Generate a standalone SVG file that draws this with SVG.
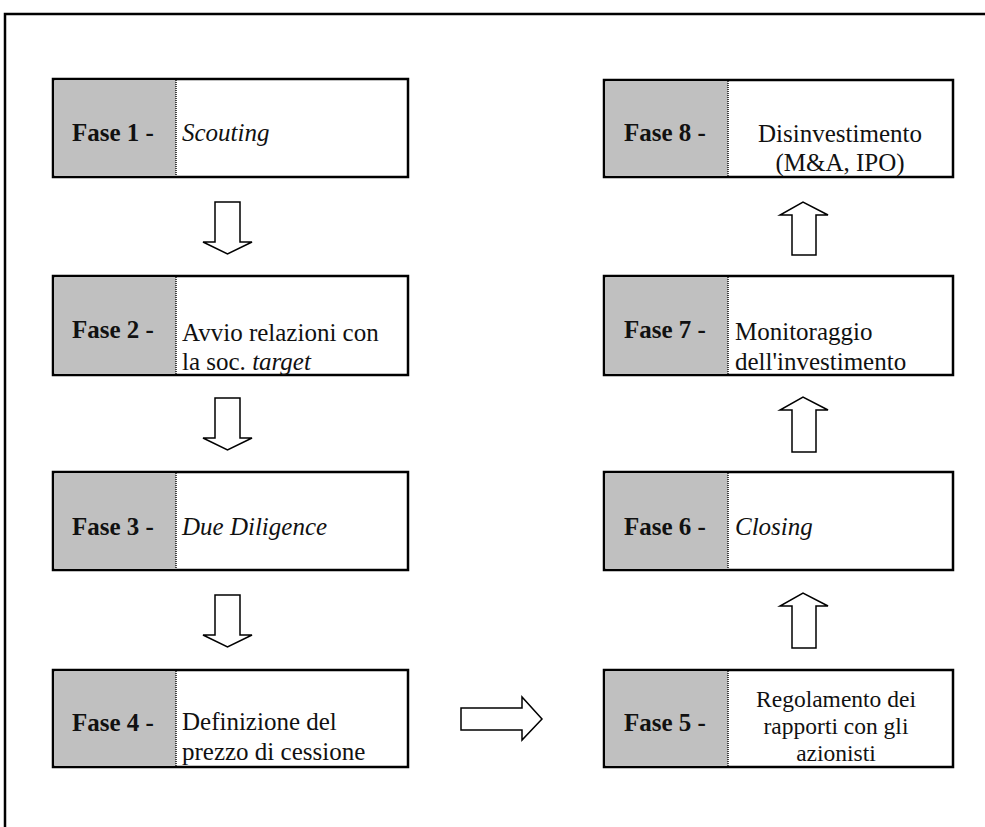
<svg xmlns="http://www.w3.org/2000/svg" width="985" height="827" viewBox="0 0 985 827">
<style>
.box{fill:#fff;stroke:#000;stroke-width:2.5}
.gray{fill:#c0c0c0}
.div{stroke:#333;stroke-width:1.8;stroke-dasharray:1 1}
text{font-family:'Liberation Serif','Times New Roman',serif;fill:#111;font-size:25px}
.lbl{font-weight:bold}
.it{font-style:italic}
.sm{font-size:23.5px}
.arr{fill:#fff;stroke:#000;stroke-width:1.5;stroke-linejoin:miter}
</style>
<rect width="985" height="827" fill="#fff"/>
<path d="M5,827 V14 H985" fill="none" stroke="#000" stroke-width="2.5"/>
<defs>
<clipPath id="c2"><rect x="53" y="276" width="355" height="99"/></clipPath>
<clipPath id="c4"><rect x="53" y="670" width="355" height="97"/></clipPath>
<clipPath id="c5"><rect x="604" y="670" width="349" height="97"/></clipPath>
<clipPath id="c7"><rect x="604" y="276" width="349" height="99"/></clipPath>
<clipPath id="c8"><rect x="604" y="80" width="349" height="97"/></clipPath>
</defs>
<g id="fase1">
<rect class="box" x="53" y="79" width="355" height="98"/>
<rect class="gray" x="54.5" y="80.5" width="121.5" height="95"/>
<line class="div" x1="176" y1="80" x2="176" y2="176"/>
<text class="lbl" x="72" y="141">Fase 1 -</text>
<text class="it" x="182" y="141">Scouting</text>
</g>
<g id="fase2">
<rect class="box" x="53" y="276" width="355" height="99"/>
<rect class="gray" x="54.5" y="277.5" width="121.5" height="96"/>
<line class="div" x1="176" y1="277" x2="176" y2="374"/>
<text class="lbl" x="72" y="338">Fase 2 -</text>
<g clip-path="url(#c2)">
<text x="182" y="341">Avvio relazioni con</text>
<text x="182" y="370">la soc. <tspan class="it">target</tspan></text>
</g>
</g>
<g id="fase3">
<rect class="box" x="53" y="472" width="355" height="98"/>
<rect class="gray" x="54.5" y="473.5" width="121.5" height="95"/>
<line class="div" x1="176" y1="473" x2="176" y2="569"/>
<text class="lbl" x="72" y="535">Fase 3 -</text>
<text class="it" x="182" y="535">Due Diligence</text>
</g>
<g id="fase4">
<rect class="box" x="53" y="670" width="355" height="97"/>
<rect class="gray" x="54.5" y="671.5" width="121.5" height="94"/>
<line class="div" x1="176" y1="671" x2="176" y2="766"/>
<text class="lbl" x="72" y="731">Fase 4 -</text>
<g clip-path="url(#c4)">
<text x="182" y="730">Definizione del</text>
<text x="182" y="760">prezzo di cessione</text>
</g>
</g>
<g id="fase5">
<rect class="box" x="604" y="670" width="349" height="97"/>
<rect class="gray" x="605.5" y="671.5" width="122.5" height="94"/>
<line class="div" x1="728" y1="671" x2="728" y2="766"/>
<text class="lbl" x="624" y="731">Fase 5 -</text>
<g clip-path="url(#c5)" text-anchor="middle">
<text class="sm" x="836" y="707">Regolamento dei</text>
<text class="sm" x="836" y="734">rapporti con gli</text>
<text class="sm" x="836" y="761">azionisti</text>
</g>
</g>
<g id="fase6">
<rect class="box" x="604" y="472" width="349" height="98"/>
<rect class="gray" x="605.5" y="473.5" width="122.5" height="95"/>
<line class="div" x1="728" y1="473" x2="728" y2="569"/>
<text class="lbl" x="624" y="535">Fase 6 -</text>
<text class="it" x="735" y="535">Closing</text>
</g>
<g id="fase7">
<rect class="box" x="604" y="276" width="349" height="99"/>
<rect class="gray" x="605.5" y="277.5" width="122.5" height="96"/>
<line class="div" x1="728" y1="277" x2="728" y2="374"/>
<text class="lbl" x="624" y="338">Fase 7 -</text>
<g clip-path="url(#c7)">
<text x="735" y="340">Monitoraggio</text>
<text x="735" y="370">dell'investimento</text>
</g>
</g>
<g id="fase8">
<rect class="box" x="604" y="80" width="349" height="97"/>
<rect class="gray" x="605.5" y="81.5" width="122.5" height="94"/>
<line class="div" x1="728" y1="81" x2="728" y2="176"/>
<text class="lbl" x="624" y="141">Fase 8 -</text>
<g clip-path="url(#c8)" text-anchor="middle">
<text x="840" y="142">Disinvestimento</text>
<text x="840" y="171">(M&amp;A, IPO)</text>
</g>
</g>
<g id="connectors">
<path class="arr" d="M215,202 H240 V242 H252 L227.5,254 L203,242 H215 Z"/>
<path class="arr" d="M215,398 H240 V438 H252 L227.5,450 L203,438 H215 Z"/>
<path class="arr" d="M215,595 H240 V635 H252 L227.5,647 L203,635 H215 Z"/>
<path class="arr" d="M461,708 H522 V697 L542,719 L522,740 V730 H461 Z"/>
<path class="arr" d="M792,648 V606 H780 L803,593 L828,606 H816 V648 Z"/>
<path class="arr" d="M792,452 V410 H780 L803,397 L828,410 H816 V452 Z"/>
<path class="arr" d="M792,255 V215 H780 L803,202 L828,215 H816 V255 Z"/>
</g>
</svg>
